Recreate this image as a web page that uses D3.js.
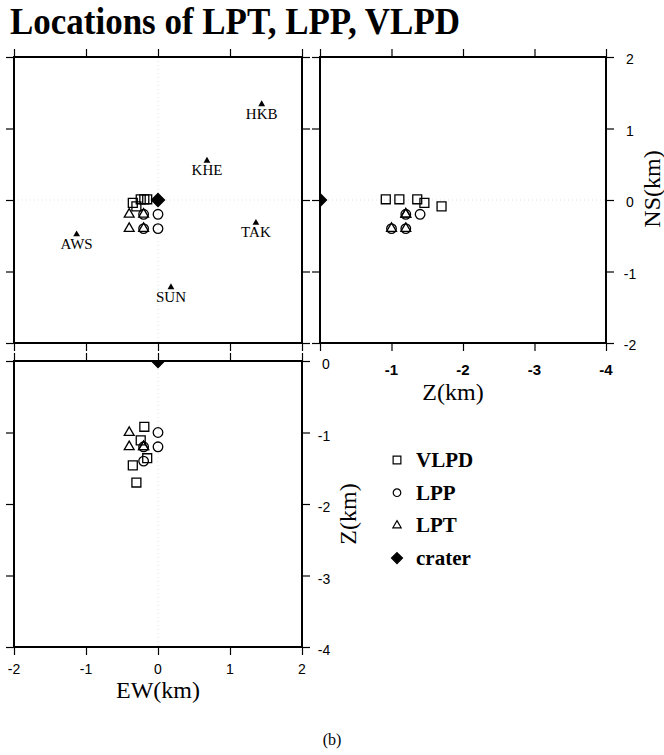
<!DOCTYPE html>
<html>
<head>
<meta charset="utf-8">
<script src="https://cdn.jsdelivr.net/npm/d3@7/dist/d3.min.js"></script>
<style>
  html, body { margin: 0; padding: 0; background: #fff; }
  svg { display: block; }
  .serif { font-family: "Liberation Serif", "Times New Roman", serif; }
  .sans { font-family: "Liberation Sans", Arial, Helvetica, sans-serif; }
</style>
</head>
<body>
<div id="chart"></div>
<script>
// Hypocentre locations (km) relative to the crater: EW (east +), NS (north +), Z (depth, negative down)
const vlpdEW = [-0.19, -0.24, -0.15, -0.35, -0.30];
const vlpdNS = [0.01, 0.01, 0.01, -0.04, -0.09];
const vlpdZ  = [-0.92, -1.11, -1.36, -1.46, -1.70];

const lppEW = [-0.2, 0.0, -0.2, 0.0];
const lppNS = [-0.2, -0.2, -0.4, -0.4];
const lppZ  = [-1.4, -1.2, -1.2, -1.0];

const lptEW = [-0.4, -0.2, -0.4, -0.2];
const lptNS = [-0.2, -0.2, -0.4, -0.4];
const lptZ  = [-1.2, -1.2, -1.0, -1.2];

const craterEW = [0];
const craterNS = [0];
const craterZ  = [0];

// Seismic stations
const stationNames = ["HKB", "KHE", "TAK", "AWS", "SUN"];
const stationEW = [1.44, 0.68, 1.36, -1.13, 0.18];
const stationNS = [1.34, 0.55, -0.32, -0.48, -1.22];

// Tick values
const horizTicks = [-2, -1, 0, 1, 2];
const depthTicks = [0, -1, -2, -3, -4];

const legendLabels = ["VLPD", "LPP", "LPT", "crater"];

const W = 664, H = 755;
const svg = d3.select("#chart").append("svg").attr("width", W).attr("height", H);
const defs = svg.append("defs");

// Scales for the three panels
const xEW = d3.scaleLinear([-2, 2], [14, 302]);
const yNS = d3.scaleLinear([-2, 2], [343, 57]);
const xZ  = d3.scaleLinear([0, -4], [320, 606]);
const yZ  = d3.scaleLinear([0, -4], [361, 647]);

// Title
svg.append("text").attr("class", "serif")
  .attr("x", 10).attr("y", 34)
  .attr("font-size", 38).attr("font-weight", "bold")
  .attr("textLength", 450).attr("lengthAdjust", "spacingAndGlyphs")
  .text("Locations of LPT, LPP, VLPD");

// Marker generators
const sym = (type, size) => d3.symbol().type(type).size(size)();
const squarePath = sym(d3.symbolSquare, 80);
const circlePath = sym(d3.symbolCircle, 72);
const trianglePath = sym(d3.symbolTriangle, 42);
const diamondPath = (h) => `M0,${-h}L${h},0L0,${h}L${-h},0Z`;

function panel(id, xs, ys, xTicks, yTicks) {
  const x0 = d3.min(xs.range()), x1 = d3.max(xs.range());
  const yt = d3.min(ys.range()), yb = d3.max(ys.range());
  const g = svg.append("g");
  defs.append("clipPath").attr("id", id)
    .append("rect").attr("x", x0).attr("y", yt).attr("width", x1 - x0).attr("height", yb - yt);

  // faint zero reference lines
  const grid = g.append("g").attr("stroke", "#d8d8d8").attr("stroke-width", 0.8).attr("stroke-dasharray", "1,3");
  const xd = xs.domain(), yd = ys.domain();
  if (Math.min(...xd) < 0 && Math.max(...xd) > 0) {
    grid.append("line").attr("x1", xs(0)).attr("x2", xs(0)).attr("y1", yt).attr("y2", yb);
  }
  if (Math.min(...yd) < 0 && Math.max(...yd) > 0) {
    grid.append("line").attr("x1", x0).attr("x2", x1).attr("y1", ys(0)).attr("y2", ys(0));
  }

  const tick = 8;
  const ax = (a) => a.tickSize(tick).tickSizeOuter(0).tickFormat("");
  g.append("g").attr("transform", `translate(0,${yt})`).call(ax(d3.axisTop(xs).tickValues(xTicks)));
  g.append("g").attr("transform", `translate(0,${yb})`).call(ax(d3.axisBottom(xs).tickValues(xTicks)));
  g.append("g").attr("transform", `translate(${x0},0)`).call(ax(d3.axisLeft(ys).tickValues(yTicks)));
  g.append("g").attr("transform", `translate(${x1},0)`).call(ax(d3.axisRight(ys).tickValues(yTicks)));
  g.selectAll(".domain").remove();
  g.selectAll(".tick line").attr("stroke", "#000").attr("stroke-width", 1.2);

  g.append("rect").attr("x", x0).attr("y", yt).attr("width", x1 - x0).attr("height", yb - yt)
    .attr("fill", "none").attr("stroke", "#000").attr("stroke-width", 2);

  return g.append("g").attr("clip-path", `url(#${id})`);
}

function plotEvents(layer, xs, ys, X, Y, path, filled) {
  layer.append("g").selectAll("path").data(X.map((v, i) => [v, Y[i]])).join("path")
    .attr("d", path)
    .attr("transform", d => `translate(${xs(d[0])},${ys(d[1])})`)
    .attr("fill", filled ? "#000" : "none")
    .attr("stroke", "#000").attr("stroke-width", 1.3);
}

// Panel 1: map view EW vs NS
const mapLayer = panel("clipMap", xEW, yNS, horizTicks, horizTicks);
plotEvents(mapLayer, xEW, yNS, vlpdEW, vlpdNS, squarePath, false);
plotEvents(mapLayer, xEW, yNS, lppEW, lppNS, circlePath, false);
plotEvents(mapLayer, xEW, yNS, lptEW, lptNS, trianglePath, false);
plotEvents(mapLayer, xEW, yNS, craterEW, craterNS, diamondPath(6.5), true);

// stations
const st = mapLayer.append("g").selectAll("g").data(stationNames).join("g")
  .attr("transform", (d, i) => `translate(${xEW(stationEW[i])},${yNS(stationNS[i])})`);
st.append("text").attr("class", "serif").attr("text-anchor", "middle")
  .attr("y", 14.5).attr("font-size", 15).text(d => d);
st.append("path").attr("d", sym(d3.symbolTriangle, 20)).attr("fill", "#000");

// Panel 2: NS vs depth
const nzLayer = panel("clipNZ", xZ, yNS, depthTicks, horizTicks);
plotEvents(nzLayer, xZ, yNS, vlpdZ, vlpdNS, squarePath, false);
plotEvents(nzLayer, xZ, yNS, lppZ, lppNS, circlePath, false);
plotEvents(nzLayer, xZ, yNS, lptZ, lptNS, trianglePath, false);
plotEvents(nzLayer, xZ, yNS, craterZ, craterNS, diamondPath(6.5), true);

// Panel 3: depth vs EW
const ezLayer = panel("clipEZ", xEW, yZ, horizTicks, depthTicks);
plotEvents(ezLayer, xEW, yZ, vlpdEW, vlpdZ, squarePath, false);
plotEvents(ezLayer, xEW, yZ, lppEW, lppZ, circlePath, false);
plotEvents(ezLayer, xEW, yZ, lptEW, lptZ, trianglePath, false);
plotEvents(ezLayer, xEW, yZ, craterEW, craterZ, diamondPath(6.5), true);

// Tick labels
// NS axis on the right of panel 2
svg.append("g").selectAll("text").data(horizTicks).join("text")
  .attr("class", "sans").attr("font-size", 14).attr("text-anchor", "middle")
  .attr("x", 630).attr("y", d => yNS(d) + 7).text(d => d);

// depth axis under panel 2 (bold)
svg.append("g").selectAll("text").data(depthTicks.filter(d => d !== 0)).join("text")
  .attr("class", "sans").attr("font-size", 15).attr("font-weight", "bold").attr("text-anchor", "middle")
  .attr("x", d => xZ(d)).attr("y", 375).text(d => d);

// depth axis on the right of panel 3
svg.append("g").selectAll("text").data(depthTicks).join("text")
  .attr("class", "sans").attr("font-size", 14).attr("text-anchor", "middle")
  .attr("x", d => d === 0 ? 326 : 324).attr("y", d => yZ(d) + 8).text(d => d);

// EW axis under panel 3
svg.append("g").selectAll("text").data(horizTicks).join("text")
  .attr("class", "sans").attr("font-size", 14).attr("text-anchor", "middle")
  .attr("x", d => xEW(d)).attr("y", 674).text(d => d);

// Axis titles
svg.append("text").attr("class", "serif").attr("font-size", 24).attr("text-anchor", "middle")
  .attr("x", 453).attr("y", 400).text("Z(km)");
svg.append("text").attr("class", "serif").attr("font-size", 24).attr("text-anchor", "middle")
  .attr("x", 158).attr("y", 698).text("EW(km)");
svg.append("text").attr("class", "serif").attr("font-size", 24).attr("text-anchor", "middle")
  .attr("transform", "translate(660,189) rotate(-90)").text("NS(km)");
svg.append("text").attr("class", "serif").attr("font-size", 24).attr("text-anchor", "middle")
  .attr("transform", "translate(356,514) rotate(-90)").text("Z(km)");

// Legend
const legendPaths = [
  sym(d3.symbolSquare, 60),
  sym(d3.symbolCircle, 45),
  sym(d3.symbolTriangle, 30),
  diamondPath(5.5)
];
const lg = svg.append("g").selectAll("g").data(legendLabels).join("g")
  .attr("transform", (d, i) => `translate(397,${460 + i * 32.7})`);
lg.append("path").attr("d", (d, i) => legendPaths[i])
  .attr("fill", (d, i) => i === 3 ? "#000" : "none")
  .attr("stroke", "#000").attr("stroke-width", 1.2);
lg.append("text").attr("class", "serif").attr("font-size", 21).attr("font-weight", "bold")
  .attr("x", 19).attr("y", 7).text(d => d);

// Panel caption
svg.append("text").attr("class", "serif").attr("font-size", 16).attr("text-anchor", "middle")
  .attr("x", 332).attr("y", 745).text("(b)");
</script>
</body>
</html>
